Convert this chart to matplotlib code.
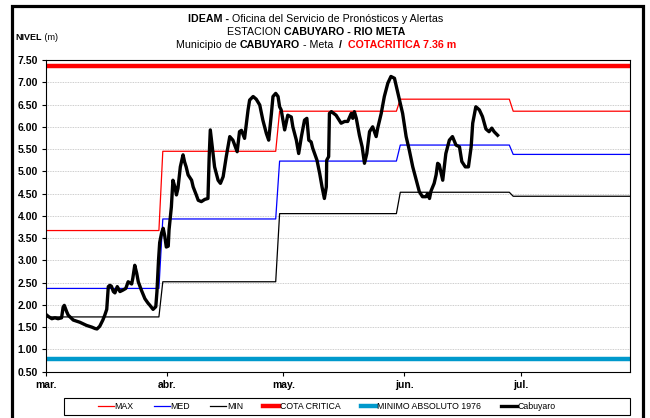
import numpy as np
import matplotlib
matplotlib.use("Agg")
import matplotlib.pyplot as plt
from matplotlib.patches import Rectangle

plt.rcParams['font.family'] = ['Liberation Sans Narrow', 'Liberation Sans', 'DejaVu Sans']

# niveles historicos por tramo (valor del tramo, dias que dura), desde el 1 de marzo
niv_max = [3.67, 5.45, 6.35, 6.62, 6.35]
niv_med = [2.37, 3.93, 5.23, 5.59, 5.38]
niv_min = [1.73, 2.52, 4.05, 4.53, 4.44]
dias_tramo = [30, 30, 31, 29, 31]

cota_critica = 7.36
minimo_absoluto = 0.78

# lecturas de la estacion Cabuyaro (dia desde el 1 de marzo, nivel en m)
dia_obs = [0.2, 0.6, 1.5, 2.3, 3.1, 4.0, 4.4, 4.7, 5.3, 5.7, 7.0, 8.7, 10.4, 11.8, 12.6,
           13.1, 13.8, 14.6, 15.1, 15.6, 16.0, 16.4, 16.8, 17.3, 17.7, 18.3, 19.0, 19.7,
           20.5, 21.1, 22.0, 22.3, 22.8, 23.3, 23.7, 24.5, 25.4, 26.2, 26.7, 27.5, 28.2,
           28.5, 28.9, 29.2, 29.7, 30.1, 30.5, 30.9, 31.4, 31.6, 32.2, 32.6, 33.1, 33.5,
           33.9, 34.5, 35.2, 35.6, 36.0, 36.5, 37.4, 37.8, 38.6, 39.1, 39.9, 40.8, 41.6,
           41.9, 42.2, 42.7, 43.3, 44.2, 44.8, 45.5, 46.3, 47.2, 48.0, 49.1, 49.7, 50.2,
           51.0, 51.9, 52.3, 53.2, 54.0, 54.9, 55.7, 56.6, 57.2, 57.9, 58.3, 59.0, 59.6,
           60.0, 60.4, 61.3, 62.1, 63.0, 63.4, 64.3, 64.9, 65.6, 66.4, 67.0, 67.5, 68.1,
           68.5, 69.0, 69.6, 70.3, 70.9, 71.5, 72.0, 72.1, 72.6, 72.8, 73.3, 74.5, 75.8,
           76.7, 77.5, 78.4, 78.8, 79.2, 79.7, 80.5, 81.2, 81.8, 82.4, 83.1, 83.9, 84.8,
           85.2, 86.1, 86.9, 87.8, 88.6, 89.5, 90.1, 90.8, 91.6, 92.5, 93.3, 94.2, 95.1,
           95.9, 96.7, 97.6, 98.0, 98.5, 98.9, 99.7, 100.2, 100.6, 101.0, 101.9, 102.7,
           103.6, 104.4, 105.3, 106.2, 106.8, 107.7, 108.5, 109.2, 109.6, 110.4, 111.3,
           112.1, 113.0, 113.8, 114.5, 115.1, 116.0]
nivel_obs = [1.77, 1.74, 1.69, 1.71, 1.69, 1.71, 1.95, 1.99, 1.85, 1.77, 1.66, 1.61, 1.54,
             1.50, 1.47, 1.46, 1.52, 1.66, 1.77, 1.90, 2.41, 2.44, 2.42, 2.30, 2.27, 2.41,
             2.30, 2.33, 2.37, 2.52, 2.47, 2.60, 2.89, 2.71, 2.52, 2.33, 2.14, 2.04, 1.99,
             1.90, 1.96, 2.30, 3.00, 3.40, 3.62, 3.72, 3.55, 3.30, 3.32, 3.68, 4.20, 4.80,
             4.65, 4.47, 4.62, 5.10, 5.37, 5.21, 5.10, 4.92, 4.80, 4.65, 4.47, 4.35, 4.32,
             4.37, 4.39, 5.30, 5.93, 5.55, 5.10, 4.80, 4.73, 4.88, 5.33, 5.78, 5.70, 5.44,
             5.89, 5.92, 5.74, 6.38, 6.60, 6.68, 6.62, 6.49, 6.15, 5.85, 5.70, 6.30, 6.68,
             6.75, 6.68, 6.45, 6.38, 5.93, 6.26, 6.22, 6.00, 5.70, 5.40, 5.78, 6.15, 6.19,
             5.70, 5.66, 5.52, 5.40, 5.25, 4.95, 4.65, 4.39, 4.65, 5.25, 5.33, 6.30, 6.34,
             6.26, 6.08, 6.12, 6.12, 6.30, 6.19, 6.34, 6.19, 5.81, 5.55, 5.18, 5.40, 5.89,
             6.00, 5.78, 5.97, 6.30, 6.68, 6.98, 7.13, 7.09, 6.86, 6.60, 6.30, 5.78, 5.48,
             5.10, 4.80, 4.54, 4.43, 4.43, 4.50, 4.39, 4.56, 4.73, 4.92, 5.18, 5.15, 4.80,
             5.40, 5.70, 5.78, 5.59, 5.55, 5.22, 5.10, 5.10, 5.55, 6.08, 6.45, 6.38, 6.23,
             5.95, 5.89, 5.97, 5.89, 5.81]

meses = ['mar.', 'abr.', 'may.', 'jun.', 'jul.']
inicio_mes = [0, 31, 61, 92, 122]

# series diarias escalonadas
dias = np.arange(sum(dias_tramo))
serie_max = np.repeat(niv_max, dias_tramo)
serie_med = np.repeat(niv_med, dias_tramo)
serie_min = np.repeat(niv_min, dias_tramo)

fig = plt.figure(figsize=(6.5, 4.18), dpi=100)
ax = fig.add_axes([46 / 650, 1 - 371.7 / 418, 584 / 650, 311.7 / 418])

ax.plot(dias, serie_max, color='#FF0000', lw=0.9, label='MAX')
ax.plot(dias, serie_med, color='#0000FF', lw=0.9, label='MED')
ax.plot(dias, serie_min, color='black', lw=0.9, label='MIN')
ax.axhline(cota_critica, color='#FF0000', lw=3.2, label='COTA CRITICA')
ax.axhline(minimo_absoluto, color='#0099CC', lw=3.2, label='MINIMO ABSOLUTO 1976')
ax.plot(dia_obs, nivel_obs, color='black', lw=2.4, solid_joinstyle='round', label='Cabuyaro')

ax.set_xlim(0, 150)
ax.set_ylim(0.5, 7.5)
ax.set_yticks(np.arange(0.5, 7.51, 0.5))
ax.set_yticklabels(['%.2f' % v for v in np.arange(0.5, 7.51, 0.5)], fontsize=7.5, fontweight='bold')
ax.set_xticks(inicio_mes)
ax.set_xticklabels(meses, fontsize=7.5, fontweight='bold')
ax.tick_params(axis='both', length=3, width=0.8, pad=3)
ax.yaxis.grid(True, linestyle=(0, (1, 1)), color='#BDBDBD', lw=0.6)
for lado in ax.spines.values():
    lado.set_linewidth(0.8)

# texto en una linea con partes en negrita
def linea_mixta(y, partes, x=316, size=8, alinear='center'):
    r = fig.canvas.get_renderer()
    objs = []
    ancho = 0
    for txt, peso, color in partes:
        t = fig.text(0, 1 - y / 418, txt, fontsize=size, fontweight=peso, color=color,
                     ha='left', va='center')
        w = t.get_window_extent(r).width
        objs.append((t, w))
        ancho += w
    if alinear == 'center':
        x = x - ancho / 2
    for t, w in objs:
        t.set_x(x / 650)
        x += w

linea_mixta(19, [('IDEAM -', 'bold', 'black'),
                 (' Oficina del Servicio de Pronósticos y Alertas', 'normal', 'black')], size=7.7)
linea_mixta(32, [('ESTACION ', 'normal', 'black'),
                 ('CABUYARO - RIO META', 'bold', 'black')], size=7.7)
linea_mixta(45, [('Municipio de ', 'normal', 'black'),
                 ('CABUYARO', 'bold', 'black'),
                 (' - Meta  ', 'normal', 'black'),
                 ('/  ', 'bold', 'black'),
                 ('COTACRITICA 7.36 m', 'bold', '#FF0000')], size=7.7)
linea_mixta(37, [('NIVEL', 'bold', 'black'), (' (m)', 'normal', 'black')],
            x=15, size=6.5, alinear='left')

# leyenda sin marco propio, con recuadro dibujado aparte
handles, labels = ax.get_legend_handles_labels()
fig.legend(handles, labels, loc='center', bbox_to_anchor=(327 / 650, 1 - 406.5 / 418),
           ncol=6, fontsize=6.3, frameon=False, handlelength=1.8, handletextpad=0.1,
           columnspacing=2.3)
fig.add_artist(Rectangle((64 / 650, 1 - 415 / 418), 566 / 650, 17 / 418,
                         transform=fig.transFigure, fill=False, edgecolor='black', lw=0.8))

# marco exterior
fig.add_artist(Rectangle((12 / 650, -0.05), 630.5 / 650, 1 - 6 / 418 + 0.05,
                         transform=fig.transFigure, fill=False, edgecolor='black', lw=2.3))

fig.savefig('out.png', dpi=100)
